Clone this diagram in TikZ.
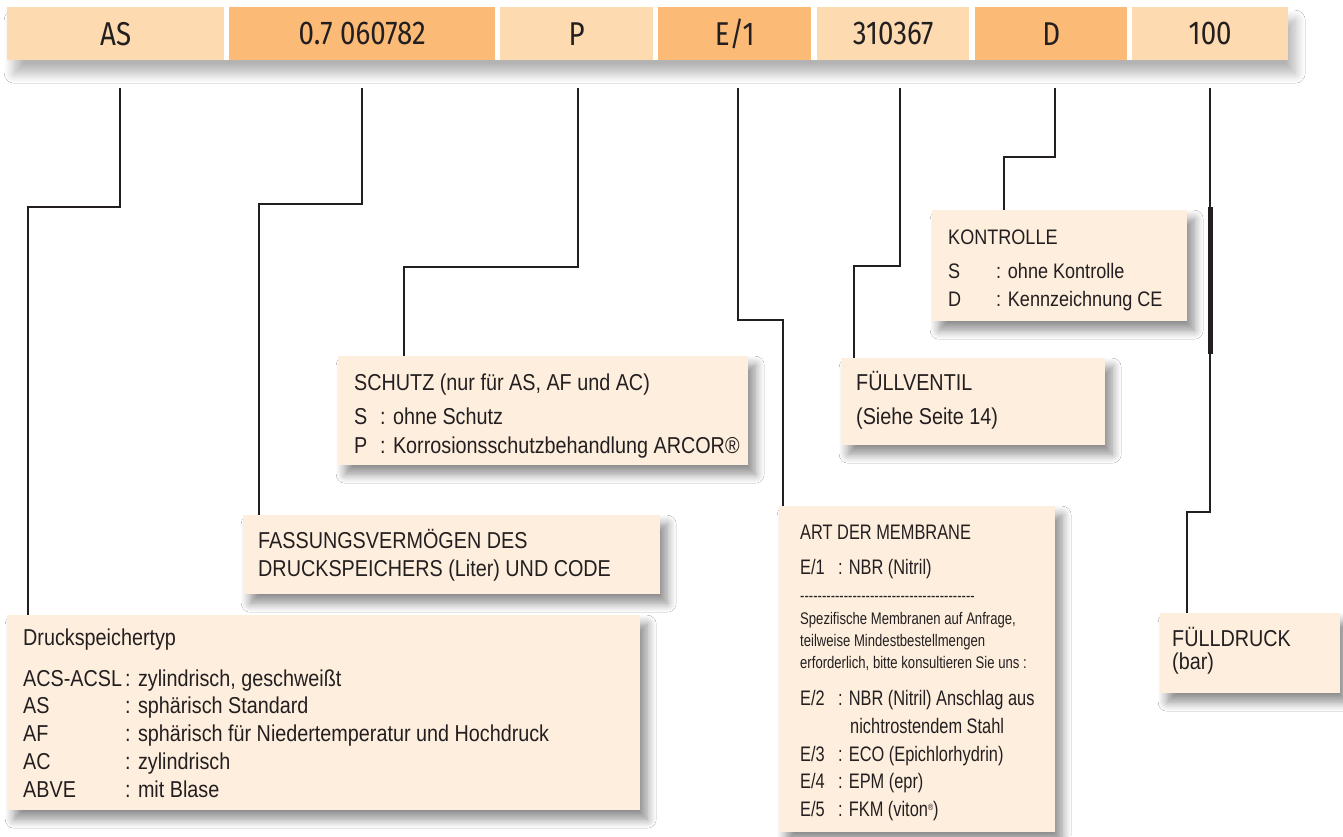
\documentclass[tikz,border=0pt]{standalone}
\usepackage{fontspec}
\setmainfont{Liberation Sans}[FakeStretch=0.86]
\newfontfamily\memfont{Liberation Sans}[FakeStretch=0.78]
\newfontfamily\barfont{Fira Sans}[FakeStretch=0.84]
\usetikzlibrary{shadows.blur}

\definecolor{cellA}{HTML}{FDDAB0}
\definecolor{cellB}{HTML}{FBBB76}
\definecolor{boxfill}{HTML}{FEEEDD}
\definecolor{ink}{HTML}{231F20}

\tikzset{
  cell/.style={anchor=north west, inner sep=0pt, minimum height=53pt, text=ink,
    font=\barfont\fontsize{33}{33}\selectfont},
  infobox/.style={anchor=north west, inner sep=0pt, fill=boxfill,
    blur shadow={shadow xshift=7pt, shadow yshift=-9pt, shadow blur radius=9pt, shadow blur steps=10, shadow opacity=45}},
  txt/.style={anchor=base west, inner sep=0pt, text=ink, font=\fontsize{23}{26}\selectfont},
  midtxt/.style={txt, font=\fontsize{21}{24}\selectfont},
  memtxt/.style={txt, font=\memfont\fontsize{21}{24}\selectfont},
  smalltxt/.style={txt, font=\memfont\fontsize{16.8}{19}\selectfont},
  lead/.style={draw=ink, line width=2pt}
}

\begin{document}
\begin{tikzpicture}[x=1pt,y=-1pt]
    \useasboundingbox (0,0) rectangle (1343,836);
    \fill[white] (0,0) rectangle (1343,836);
    % code bar
    \node[anchor=north west, inner sep=0pt, minimum width=1281pt, minimum height=53pt, fill=white,
      blur shadow={shadow xshift=7pt, shadow yshift=-13pt, shadow blur radius=10pt, shadow blur steps=10, shadow opacity=30}] (bar) at (7,7) {};
    \node[cell, fill=cellA, minimum width=217pt] (as) at (7,7) {AS};
    \node[cell, fill=cellB, minimum width=266pt] (vol) at (229,7) {0.7 060782};
    \node[cell, fill=cellA, minimum width=153pt] (p) at (500,7) {P};
    \node[cell, fill=cellB, minimum width=153pt] (e1) at (658,7) {E/1};
    \node[cell, fill=cellA, minimum width=152pt] (code) at (817,7) {310367};
    \node[cell, fill=cellB, minimum width=152pt] (d) at (975,7) {D};
    \node[cell, fill=cellA, minimum width=156pt] (bar100) at (1132,7) {100};

    % boxes
    \node[infobox, minimum width=633pt, minimum height=195pt] (typ) at (7,615) {};
    \node[infobox, minimum width=417pt, minimum height=79pt] (fass) at (243,515) {};
    \node[infobox, minimum width=410pt, minimum height=109pt] (schutz) at (338,356) {};
    \node[infobox, minimum width=264pt, minimum height=87pt] (ventil) at (841,358) {};
    \node[infobox, minimum width=255pt, minimum height=111pt] (kontr) at (932,210) {};
    \node[infobox, minimum width=276pt, minimum height=326pt] (memb) at (779,506) {};
    \node[infobox, minimum width=180pt, minimum height=80pt] (druck) at (1160,613) {};

    % Druckspeichertyp
    \node[txt] at (23,645) {Druckspeichertyp};
    \node[txt] at (23,686) {ACS-ACSL};
    \node[txt] at (23,713) {AS};
    \node[txt] at (23,741) {AF};
    \node[txt] at (23,769) {AC};
    \node[txt] at (23,797) {ABVE};
    \node[txt] at (125,686) {: zylindrisch, geschweißt};
    \node[txt] at (125,713) {: sphärisch Standard};
    \node[txt] at (125,741) {: sphärisch für Niedertemperatur und Hochdruck};
    \node[txt] at (125,769) {: zylindrisch};
    \node[txt] at (125,797) {: mit Blase};

    % Fassungsvermoegen
    \node[txt] at (258,548) {FASSUNGSVERMÖGEN DES};
    \node[txt] at (258,576) {DRUCKSPEICHERS (Liter) UND CODE};

    % Schutz
    \node[txt] at (354,390) {SCHUTZ (nur für AS, AF und AC)};
    \node[txt] at (354,424) {S};
    \node[txt] at (354,453) {P};
    \node[txt] at (380,424) {: ohne Schutz};
    \node[txt] at (380,453) {: Korrosionsschutzbehandlung ARCOR®};

    % Fuellventil
    \node[txt] at (856,390) {FÜLLVENTIL};
    \node[txt] at (856,424) {(Siehe Seite 14)};

    % Kontrolle
    \node[midtxt] at (948,244) {KONTROLLE};
    \node[midtxt] at (948,278) {S};
    \node[midtxt] at (948,306) {D};
    \node[midtxt] at (996,278) {: ohne Kontrolle};
    \node[midtxt] at (996,306) {: Kennzeichnung CE};

    % Membrane
    \node[memtxt] at (800,539) {ART DER MEMBRANE};
    \node[memtxt] at (800,574) {E/1};
    \node[memtxt] at (838,574) {: NBR (Nitril)};
    \node[smalltxt] at (800,601) {\foreach \k in {1,...,40}{-}};
    \node[smalltxt] at (800,624) {Spezifische Membranen auf Anfrage,};
    \node[smalltxt] at (800,646) {teilweise Mindestbestellmengen};
    \node[smalltxt] at (800,668) {erforderlich, bitte konsultieren Sie uns :};
    \node[memtxt] at (800,705) {E/2};
    \node[memtxt] at (800,761) {E/3};
    \node[memtxt] at (800,788) {E/4};
    \node[memtxt] at (800,816) {E/5};
    \node[memtxt] at (838,705) {: NBR (Nitril) Anschlag aus};
    \node[memtxt] at (850,733) {nichtrostendem Stahl};
    \node[memtxt] at (838,761) {: ECO (Epichlorhydrin)};
    \node[memtxt] at (838,788) {: EPM (epr)};
    \node[memtxt] at (838,816) {: FKM (viton\raisebox{6pt}{\fontsize{9}{9}\selectfont ®})};

    % Fuelldruck
    \node[txt] at (1172,646) {FÜLLDRUCK};
    \node[txt] at (1172,669) {(bar)};

    % leader lines
    \draw[lead] (as.south) ++(4.5,28) -- ++(0,119) -| ([xshift=21pt]typ.north west);
    \draw[lead] (vol.south) ++(0,28) -- ++(0,116) -| ([xshift=16pt]fass.north west);
    \draw[lead] (p.south) ++(1.5,28) -- ++(0,179) -| ([xshift=66pt]schutz.north west);
    \draw[lead] (e1.south) ++(3.5,28) -- ++(0,232) -| ([xshift=4pt]memb.north west);
    \draw[lead] (code.south) ++(7,28) -- ++(0,178) -| ([xshift=13pt]ventil.north west);
    \draw[lead] (d.south) ++(4,28) -- ++(0,69) -| ([xshift=72pt]kontr.north west);
    \draw[lead] (bar100.south) ++(0,28) -- ++(0,424) -| ([xshift=27pt]druck.north west);
    \draw[lead, line width=4.5pt] ([xshift=23pt,yshift=3pt]kontr.north east) -- ([xshift=23pt,yshift=-33pt]kontr.south east);
\end{tikzpicture}
\end{document}
